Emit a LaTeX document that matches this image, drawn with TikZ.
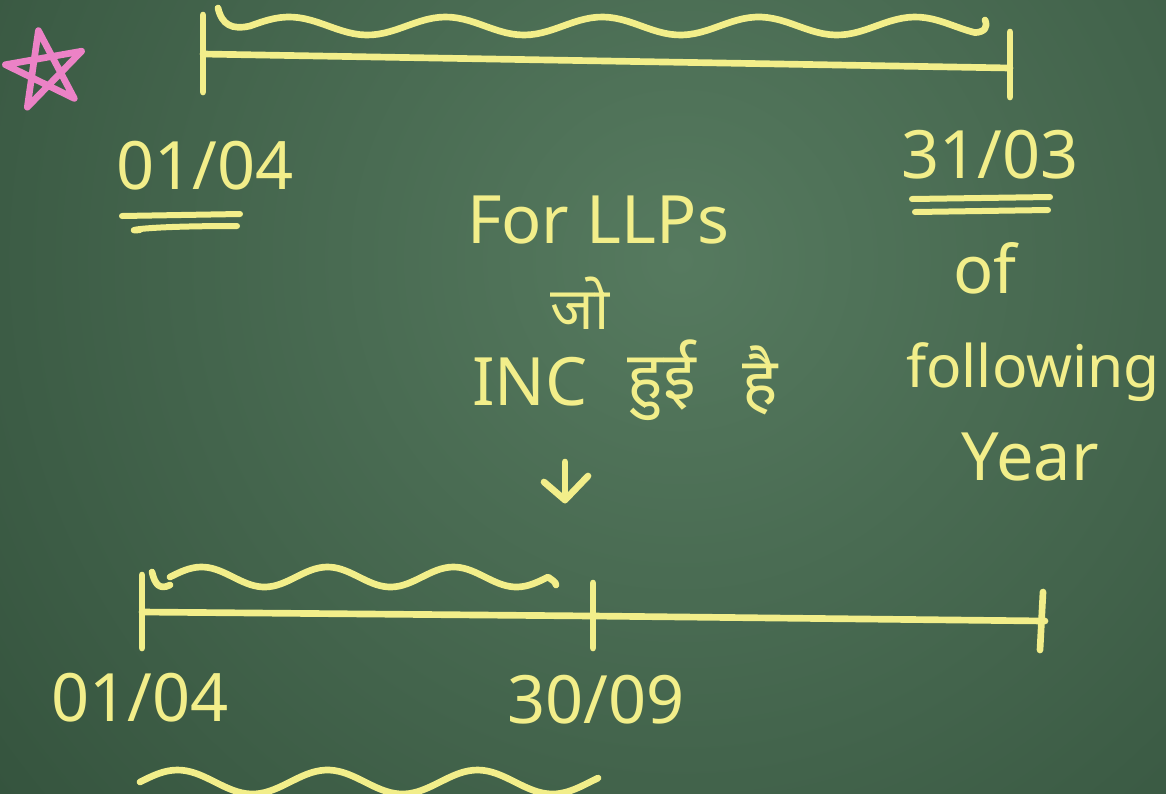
\documentclass[tikz,border=0pt]{standalone}
\usepackage{fontspec}
\setmainfont{Noto Sans}
\newfontfamily\hindi[Script=Devanagari]{Noto Sans}
\definecolor{chalk}{HTML}{F2EE8A}
\definecolor{pinkchalk}{HTML}{EC82C6}
\definecolor{boardin}{HTML}{567A5F}
\definecolor{boardout}{HTML}{304E39}
\tikzset{
  chalkline/.style={draw=chalk, line width=5pt, line cap=round, line join=round},
  wave/.style={chalkline, line width=5pt},
  label/.style={text=chalk, font=\fontsize{50}{54}\selectfont, inner sep=0pt},
  hlabel/.style={text=chalk, font=\hindi\fontsize{50}{54}\selectfont, inner sep=0pt}
}
\begin{document}
\begin{tikzpicture}[x=0.75pt, y=-0.75pt]
\useasboundingbox (0,0) rectangle (1166,793);
\begin{scope}
\clip (0,0) rectangle (1166,793);
\shade[inner color=boardin, outer color=boardout] (680,260) circle (1000);
\end{scope}

% star
\draw[draw=pinkchalk, line width=5pt, line cap=round, line join=round]
  (38.4,30.6) -- (27.3,107.2) -- (81.6,51.2) -- (5.4,64.7) -- (74.3,98.4) -- cycle;

% top timeline
\coordinate (tl) at (203,54);
\coordinate (tr) at (1010,68);
\draw[chalkline] (203,15) -- (203,92);
\draw[chalkline] (1010,32) -- (1010,97);
\draw[chalkline] (tl) -- (tr);
\draw[wave] (218,8) .. controls (222,25) and (232,30) .. (250,26)
  plot[domain=250:975, samples=120] (\x, {26 - 9*sin((\x-250)*2.3)})
  .. controls (985,32) and (988,27) .. (985,20);

% top labels
\node[label] (a1) at (205,166) {01/04};
\draw[chalkline, line width=4.5pt] (122,216) -- (240,214);
\draw[chalkline, line width=4.5pt] (140,230) .. controls (125,232) and (130,226) .. (237,226);
\node[label] (a2) at (990,155) {31/03};
\draw[chalkline, line width=4.5pt] (912,199) -- (1050,197);
\draw[chalkline, line width=4.5pt] (915,212) -- (1048,210);
\node[label] (of) at (985,268) {of};
\node[label, font=\fontsize{44}{48}\selectfont] (fol) at (1033,372) {following};
\node[label] (yr) at (1030,457) {Year};

% center text
\node[label] (llp) at (598,220) {For LLPs};
\node[hlabel, font=\hindi\fontsize{44}{48}\selectfont] (jo) at (580,303) {जो};
\node[label] (inc) at (530,382) {INC};
\node[hlabel] (hui) at (662,380) {हुई};
\node[hlabel] (hai) at (760,380) {है};
\coordinate (arrtop) at (565,462);
\coordinate (arrbot) at (565,500);
\draw[chalkline] (arrtop) -- (arrbot);
\draw[chalkline] (544,482) -- (arrbot) -- (588,476);

% bottom timeline
\coordinate (bl) at (142,612);
\coordinate (bm) at (593,616);
\coordinate (br) at (1045,621);
\draw[chalkline] (142,575) -- (142,648);
\draw[chalkline] (593,583) -- (593,648);
\draw[chalkline] (1043,592) -- (1040,650);
\draw[chalkline] (bl) -- (bm) -- (br);
\draw[wave] (152,572) .. controls (155,585) and (160,590) .. (170,585)
  plot[domain=170:548, samples=100] (\x, {577 - 10*sin((\x-170)*2.857)})
  .. controls (552,580) and (556,582) .. (556,585);

% bottom labels
\node[label] (b1) at (140,698) {01/04};
\node[label] (b2) at (596,700) {30/09};
\draw[wave] (140,765) plot[domain=140:598, samples=100] (\x, {782 - 12*sin((\x-140)*2.4)});
\end{tikzpicture}
\end{document}
